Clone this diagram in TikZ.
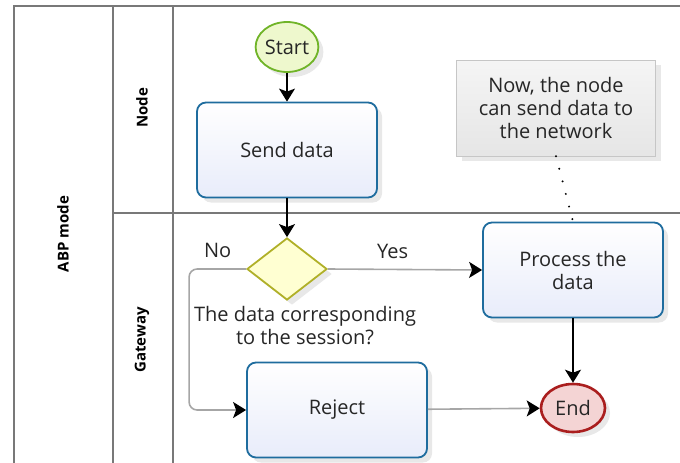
\documentclass[tikz,border=0pt]{standalone}
\usepackage{fontspec}
\setmainfont{Open Sans}
\usetikzlibrary{arrows.meta,positioning,shapes.geometric,shadows}

\definecolor{taskblue}{RGB}{30,108,158}
\definecolor{taskfill}{RGB}{232,236,250}
\definecolor{startgreen}{RGB}{112,180,40}
\definecolor{startfill}{RGB}{238,248,205}
\definecolor{gwolive}{RGB}{176,176,40}
\definecolor{gwfill}{RGB}{255,255,210}
\definecolor{endred}{RGB}{170,30,30}
\definecolor{endfill}{RGB}{244,212,212}
\definecolor{lanegray}{RGB}{120,120,120}

\begin{document}
\begin{tikzpicture}[x=1pt,y=-1pt,
    font=\fontsize{20}{23}\selectfont, text=black!85,
    lane/.style={draw=lanegray, line width=1.4pt},
    lanelabel/.style={rotate=90, font=\fontsize{15}{18}\selectfont\bfseries, text=black},
    shadowed/.style={drop shadow={opacity=0.18, shadow xshift=5pt, shadow yshift=-5pt}},
    task/.style={draw=taskblue, line width=1.8pt, rounded corners=9pt, top color=white,
        bottom color=taskfill, minimum width=180pt, minimum height=95pt, align=center, shadowed},
    startev/.style={ellipse, draw=startgreen, line width=1.8pt, fill=startfill,
        minimum width=61pt, minimum height=50pt, inner sep=0pt, shadowed},
    endev/.style={ellipse, draw=endred, line width=2.6pt, fill=endfill,
        minimum width=64pt, minimum height=48pt, inner sep=0pt, shadowed},
    gwy/.style={diamond, draw=gwolive, line width=1.8pt, fill=gwfill, aspect=1.3,
        minimum width=80pt, minimum height=62pt, inner sep=0pt, shadowed},
    note/.style={draw=gray!45, top color=gray!8, bottom color=gray!20, minimum width=199pt,
        minimum height=96pt, align=center, shadowed},
    flow/.style={draw=black, line width=1.3pt, -{Stealth[length=13pt,width=16pt,inset=3pt]}},
    gflow/.style={draw=gray!70, line width=1.6pt, -{Stealth[black,length=13pt,width=16pt,inset=3pt]}},
    assoc/.style={draw=black, line width=2.2pt, line cap=round, dash pattern=on 0pt off 13pt}]

    \useasboundingbox (0,0) rectangle (680,463);

    % lanes
    \draw[lane] (14,463) -- (14,6) -- (680,6);
    \draw[lane] (113,6) -- (113,463);
    \draw[lane] (173,6) -- (173,463);
    \draw[lane] (113,213) -- (680,213);

    \node[lanelabel] (pool) at (63,234) {ABP mode};
    \node[lanelabel] (nodelane) at (142,108) {Node};
    \node[lanelabel] (gwlane) at (142,340) {Gateway};

    % elements
    \node[startev] (start) at (287,47) {Start};
    \node[task] (send) at (287,150) {Send data};
    \node[gwy] (check) at (287,269) {};
    \node[align=center] (question) at (305,326) {The data corresponding\\to the session?};
    \node[task] (process) at (573,270) {Process the\\data};
    \node[task] (reject) at (337,410) {Reject};
    \node[endev] (end) at (573,408) {End};
    \node[note] (comment) at (556,108) {Now, the node\\can send data to\\the network};

    % connectors
    \draw[flow] (start) -- (send);
    \draw[flow] (send) -- (check);
    \draw[gflow] (check.east) -- node[above=7pt, pos=0.42] {Yes} (process.west);
    \draw[gflow, rounded corners=8pt] (check.west) -- node[above=7pt] {No} ++(-57,0) |- (reject.west);
    \draw[gflow] (reject) -- (end);
    \draw[flow] (process) -- (end);
    \draw[assoc] (comment.south) -- (process.north);
\end{tikzpicture}
\end{document}
